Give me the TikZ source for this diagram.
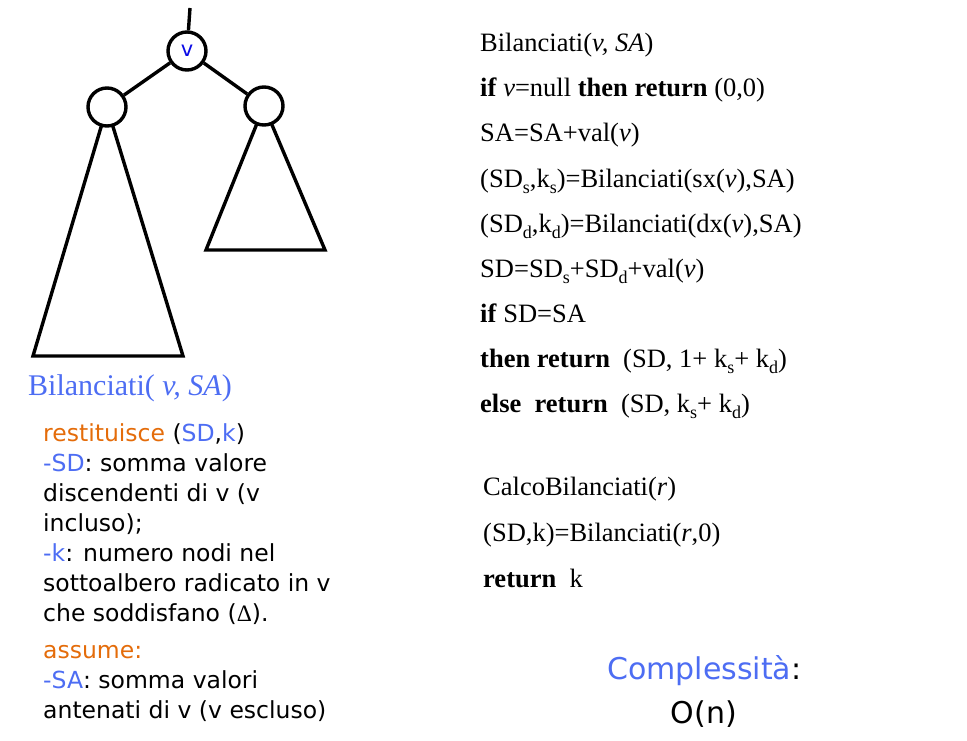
\documentclass[tikz,border=0pt]{standalone}
\usepackage{fontspec}
\setmainfont{Liberation Serif}
\newfontfamily\comicfont{DejaVu Sans}
\definecolor{titleblue}{RGB}{77,109,243}
\definecolor{keyorange}{RGB}{228,108,10}
\definecolor{vblue}{RGB}{10,10,230}
\newcommand{\ssub}[1]{\raisebox{-0.25em}{\fontsize{18}{18}\selectfont #1}}
\begin{document}
\begin{tikzpicture}[x=1pt,y=-1pt]

    \tikzset{
      nodo/.style={
        draw,
        circle,
        line width=3.4pt,
        fill=white,
        inner sep=0pt,
        minimum size=38pt,
        font=\comicfont\fontsize{21}{21}\selectfont,
        text=vblue,
      },
      codeline/.style={
        anchor=base west,
        inner sep=0pt,
        font=\fontsize{26.5}{26.5}\selectfont,
      },
      spectext/.style={
        anchor=north west,
        inner sep=0pt,
        align=left,
        font=\comicfont\fontsize{23.5}{30}\selectfont,
      },
    }
    \useasboundingbox (0,0) rectangle (967,741);
	\coordinate (vc) at (187,51);
	\coordinate (sxc) at (107,107);
	\coordinate (dxc) at (264,106);
	\coordinate (padre) at (190,8);
	\draw[line width=3.4pt,line join=miter] (sxc) -- (33,356) -- (183,356) -- cycle;
	\draw[line width=3.4pt,line join=miter] (dxc) -- (206,250) -- (325,250) -- cycle;
	\node[nodo] (v) at (vc) {v};
	\node[nodo] (sx) at (sxc) {};
	\node[nodo] (dx) at (dxc) {};
	\draw[line width=3.4pt] (v) -- (padre);
	\draw[line width=3.4pt] (v) -- (sx);
	\draw[line width=3.4pt] (v) -- (dx);

	\node[anchor=base west,inner sep=0pt,text=titleblue,font=\fontsize{30}{30}\selectfont] (titolo) at (28,395) {Bilanciati( \textit{v, SA})};
	\node[spectext] (spec) at (43,423) {\textcolor{keyorange}{restituisce} (\textcolor{titleblue}{SD},\textcolor{titleblue}{k})\\
	\textcolor{titleblue}{-SD}: somma valore\\
	discendenti di v (v\\
	incluso);\\
	\textcolor{titleblue}{-k}: numero nodi nel\\
	sottoalbero radicato in v\\
	che soddisfano (\textrm{Δ}).\\[7pt]
	\textcolor{keyorange}{assume:}\\
	\textcolor{titleblue}{-SA}: somma valori\\
	antenati di v (v escluso)};

	\node[codeline] (c1) at (480,52) {Bilanciati(\textit{v, SA})};
	\node[codeline] (c2) at (480,97) {\textbf{if} \textit{v}=null \textbf{then return} (0,0)};
	\node[codeline] (c3) at (480,142) {SA=SA+val(\textit{v})};
	\node[codeline] (c4) at (480,187) {(SD\ssub{s},k\ssub{s})=Bilanciati(sx(\textit{v}),SA)};
	\node[codeline] (c5) at (480,232) {(SD\ssub{d},k\ssub{d})=Bilanciati(dx(\textit{v}),SA)};
	\node[codeline] (c6) at (480,277) {SD=SD\ssub{s}+SD\ssub{d}+val(\textit{v})};
	\node[codeline] (c7) at (480,322) {\textbf{if} SD=SA};
	\node[codeline] (c8) at (480,367) {\textbf{then return}\ \ (SD, 1+ k\ssub{s}+ k\ssub{d})};
	\node[codeline] (c9) at (480,412) {\textbf{else\ \ return}\ \ (SD, k\ssub{s}+ k\ssub{d})};

	\node[codeline] (m1) at (483,495) {CalcoBilanciati(\textit{r})};
	\node[codeline] (m2) at (483,541) {(SD,k)=Bilanciati(\textit{r},0)};
	\node[codeline] (m3) at (483,587) {\textbf{return}\ \ k};

	\node[anchor=base west,inner sep=0pt,font=\comicfont\fontsize{30}{30}\selectfont] (compl) at (607,679) {\textcolor{titleblue}{Complessità}:};
	\node[anchor=base,inner sep=0pt,font=\comicfont\fontsize{30}{30}\selectfont] (ordine) at (704,723) {O(n)};

\end{tikzpicture}
\end{document}
